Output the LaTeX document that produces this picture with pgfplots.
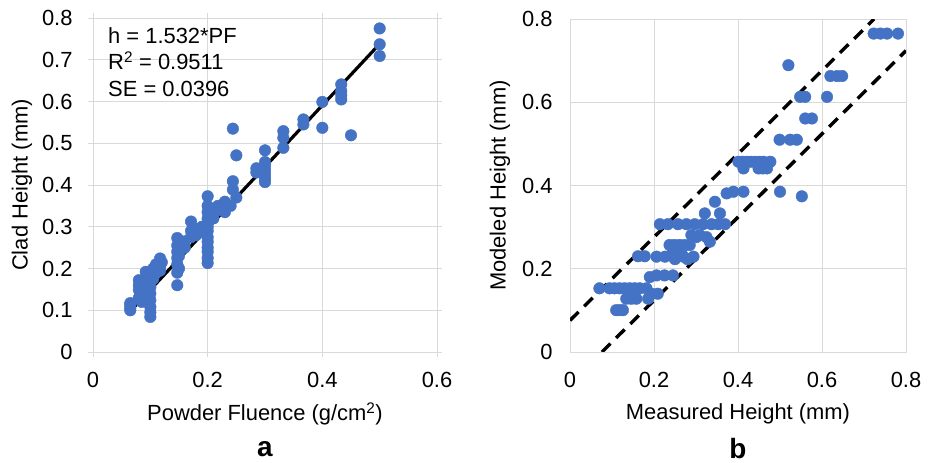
\documentclass[border=0pt]{standalone}
\usepackage{pgfplots}
\pgfplotsset{compat=1.18}
\usepackage{fontspec}
\setmainfont{Liberation Sans}
\definecolor{xlblue}{HTML}{4472C4}
\definecolor{gridc}{HTML}{D9D9D9}
\pgfplotsset{
  myax/.style={
    scale only axis,
    grid=major,
    major grid style={draw=gridc, line width=0.9bp},
    axis line style={draw=gridc, line width=0.9bp},
    tick style={draw=gridc, line width=0.9bp},
    font=\fontsize{22}{25}\selectfont,
    tick label style={font=\fontsize{22}{25}\selectfont},
    label style={font=\fontsize{22}{25}\selectfont},
    /pgf/number format/assume math mode=true,
    /pgf/number format/.cd, fixed, precision=1,
  },
}
\begin{document}
\begin{tikzpicture}
\path[use as bounding box] (0,0) rectangle (935bp,463bp);
% ---------- panel a
\begin{axis}[myax,
  at={(93bp,111bp)}, anchor=south west,
  width=344bp, height=334bp,
  xmin=0, xmax=0.6, ymin=0, ymax=0.8,
  xtick={0,0.2,0.4,0.6}, ytick={0,0.1,0.2,0.3,0.4,0.5,0.6,0.7,0.8},
  tick align=outside, major tick length=5bp,
  xticklabel style={yshift=-12bp},
  yticklabel style={xshift=-12bp},
  xlabel={Powder Fluence (g/cm\textsuperscript{2})},
  ylabel={Clad Height (mm)},
  xlabel style={at={(axis description cs:0.5,-0.186)}, anchor=center},
  ylabel style={at={(axis description cs:-0.2064,0.5)}, anchor=center},
]
\addplot[only marks, mark=*, mark size=5.8bp, color=xlblue] coordinates {
(0.065,0.100) (0.065,0.105) (0.065,0.112) (0.065,0.117)
(0.080,0.130) (0.080,0.149) (0.080,0.160) (0.080,0.172)
(0.085,0.120) (0.085,0.140) (0.085,0.155)
(0.092,0.192) (0.092,0.165) (0.092,0.145)
(0.100,0.084) (0.100,0.095) (0.100,0.108) (0.100,0.124) (0.100,0.140) (0.100,0.155) (0.100,0.170) (0.100,0.180)
(0.105,0.200) (0.105,0.175) (0.110,0.210) (0.110,0.190)
(0.117,0.224) (0.117,0.205) (0.117,0.195) (0.120,0.215)
(0.147,0.160) (0.147,0.190) (0.147,0.210) (0.147,0.225) (0.147,0.240) (0.147,0.255) (0.147,0.273)
(0.150,0.230) (0.150,0.200) (0.160,0.250) (0.160,0.265)
(0.171,0.3125) (0.171,0.290) (0.171,0.275) (0.180,0.280) (0.180,0.295)
(0.190,0.300) (0.190,0.290)
(0.200,0.373) (0.200,0.350) (0.200,0.335) (0.200,0.320) (0.200,0.310) (0.200,0.300) (0.200,0.290) (0.200,0.275) (0.200,0.264) (0.200,0.250) (0.200,0.240) (0.200,0.225) (0.200,0.213)
(0.210,0.330) (0.210,0.320) (0.218,0.350) (0.218,0.340)
(0.230,0.360) (0.230,0.345) (0.230,0.335) (0.240,0.350)
(0.244,0.409) (0.244,0.389) (0.244,0.535) (0.250,0.471) (0.250,0.370)
(0.285,0.440) (0.285,0.430)
(0.300,0.483) (0.300,0.455) (0.300,0.445) (0.300,0.435) (0.300,0.425) (0.300,0.415) (0.300,0.407)
(0.332,0.529) (0.332,0.513) (0.332,0.489)
(0.367,0.557) (0.367,0.545)
(0.400,0.599) (0.400,0.537)
(0.433,0.641) (0.433,0.625) (0.433,0.615) (0.433,0.605)
(0.450,0.519)
(0.500,0.775) (0.500,0.737) (0.500,0.709)
};
\addplot[black, line width=3.2bp, no marks] coordinates {(0.0655,0.0985) (0.500,0.738)};
\node[anchor=north west, inner sep=0pt, align=left, font=\fontsize{22}{26.7}\selectfont]
  at (axis description cs:0.0436,0.973) {h = 1.532*PF\\R\textsuperscript{2} = 0.9511\\SE = 0.0396};
\end{axis}
% ---------- panel b
\begin{axis}[myax,
  at={(570bp,111bp)}, anchor=south west,
  width=336bp, height=333bp,
  xmin=0, xmax=0.8, ymin=0, ymax=0.8,
  xtick={0,0.2,0.4,0.6,0.8}, ytick={0,0.2,0.4,0.6,0.8},
  major tick length=0pt,
  xticklabel style={yshift=-17bp},
  yticklabel style={xshift=-14bp},
  xlabel={Measured Height (mm)},
  ylabel={Modeled Height (mm)},
  xlabel style={at={(axis description cs:0.5,-0.186)}, anchor=center},
  ylabel style={at={(axis description cs:-0.2083,0.5)}, anchor=center},
]
\addplot[black, line width=3.4bp, dash pattern=on 12bp off 8bp, no marks] coordinates {(0,0.076) (0.724,0.8)};
\addplot[black, line width=3.4bp, dash pattern=on 12bp off 8bp, no marks] coordinates {(0.076,0) (0.8,0.724)};
\addplot[only marks, mark=*, mark size=5.8bp, color=xlblue] coordinates {
(0.110,0.1005) (0.118,0.1005) (0.126,0.1005)
(0.134,0.128) (0.146,0.128) (0.158,0.128) (0.186,0.128) (0.194,0.140) (0.209,0.140)
(0.070,0.153) (0.094,0.153) (0.106,0.153) (0.118,0.153) (0.130,0.153) (0.142,0.153) (0.154,0.153) (0.166,0.153) (0.182,0.153)
(0.190,0.180) (0.206,0.184) (0.225,0.184) (0.245,0.184)
(0.162,0.230) (0.178,0.230)
(0.206,0.229) (0.226,0.229) (0.246,0.229) (0.270,0.229) (0.294,0.229) (0.250,0.223) (0.280,0.223)
(0.237,0.257) (0.249,0.257) (0.261,0.257) (0.273,0.257) (0.285,0.257)
(0.245,0.245) (0.265,0.245)
(0.301,0.276) (0.325,0.276) (0.289,0.281) (0.309,0.281) (0.333,0.265)
(0.214,0.307) (0.233,0.307) (0.257,0.307) (0.277,0.307) (0.297,0.307) (0.317,0.307) (0.337,0.307) (0.353,0.307) (0.369,0.307)
(0.321,0.333) (0.357,0.333) (0.345,0.361)
(0.373,0.381) (0.389,0.385) (0.413,0.385)
(0.500,0.385) (0.552,0.374)
(0.401,0.457) (0.411,0.457) (0.421,0.457) (0.431,0.457) (0.441,0.457) (0.451,0.457) (0.461,0.457) (0.477,0.457)
(0.413,0.441) (0.449,0.441) (0.459,0.441) (0.469,0.441)
(0.499,0.510) (0.524,0.510) (0.540,0.510)
(0.560,0.561) (0.576,0.561)
(0.548,0.613) (0.560,0.613) (0.612,0.613)
(0.620,0.663) (0.636,0.663) (0.648,0.663)
(0.520,0.689)
(0.723,0.765) (0.739,0.765) (0.755,0.765) (0.781,0.765)
};
\end{axis}
\node[font=\fontsize{28}{30}\selectfont\bfseries] at (265bp,14bp) {a};
\node[font=\fontsize{28}{30}\selectfont\bfseries] at (738bp,14bp) {b};
\end{tikzpicture}
\end{document}
